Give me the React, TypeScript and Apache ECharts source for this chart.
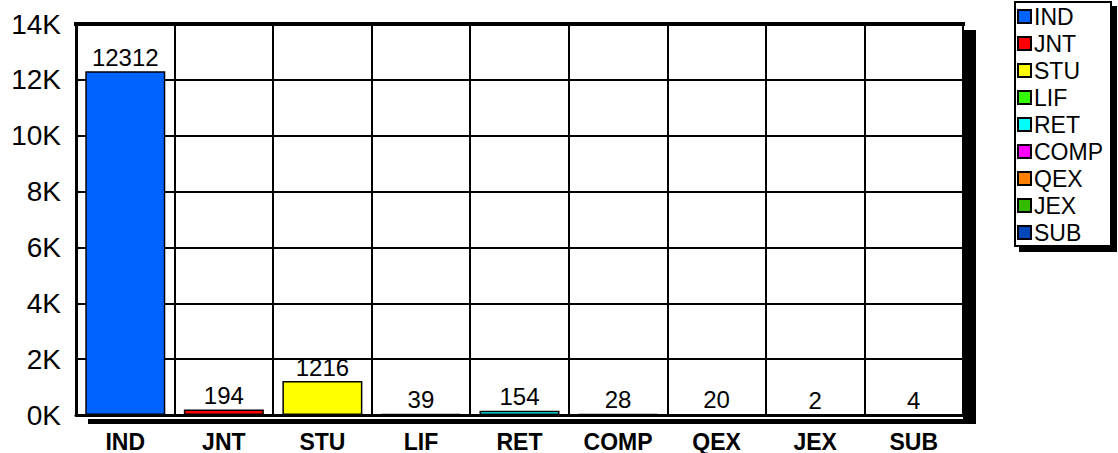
import React, { useEffect, useRef } from "react";
import * as echarts from "echarts";

const categories = ["IND", "JNT", "STU", "LIF", "RET", "COMP", "QEX", "JEX", "SUB"];
const values = [12312, 194, 1216, 39, 154, 28, 20, 2, 4];
const colors = ["#0062FF", "#FF0000", "#FFFF00", "#33FF00", "#00FFFF", "#FF00FF", "#FF7F00", "#33BB00", "#0047BB"];
const yMin = 0;
const yMax = 14000;
const yStep = 2000;

const FONT = "Arial, 'Liberation Sans', sans-serif";

export default function App() {
  const ref = useRef<HTMLDivElement>(null);
  useEffect(() => {
    if (!ref.current) return;
    const chart = echarts.init(ref.current, null, { renderer: "svg" });
    const series = categories.map((name, i) => ({
      name,
      type: "bar",
      stack: "all",
      barWidth: 80,
      data: categories.map((_, j) => (j === i ? values[i] : "-")),
      itemStyle: { color: colors[i], borderColor: "#000", borderWidth: 1.5 },
      label: {
        show: true,
        position: "top",
        distance: 2,
        color: "#000",
        fontSize: 24,
        fontFamily: FONT,
      },
      z: 3,
    }));
    chart.setOption({
      animation: false,
      backgroundColor: "#fff",
      textStyle: { fontFamily: FONT },
      grid: {
        left: 76,
        top: 24,
        right: 155,
        bottom: 35,
        show: true,
        borderColor: "#000",
        borderWidth: 2,
      },
      legend: {
        orient: "vertical",
        left: 1015,
        top: 2,
        data: categories,
        icon: "rect",
        itemWidth: 13,
        itemHeight: 13,
        itemGap: 4,
        padding: [3, 8, 2, 2],
        backgroundColor: "#fff",
        borderColor: "#000",
        borderWidth: 2,
        borderRadius: 0,
        shadowColor: "#000",
        shadowBlur: 0,
        shadowOffsetX: 5,
        shadowOffsetY: 5,
        itemStyle: { borderColor: "#000", borderWidth: 2 },
        textStyle: { fontSize: 23, lineHeight: 22, color: "#000", fontFamily: FONT, padding: [0, 0, 0, -2] },
        selectedMode: false,
      },
      xAxis: {
        type: "category",
        data: categories,
        axisLine: { show: true, lineStyle: { color: "#000", width: 3 } },
        axisTick: { show: false },
        splitLine: { show: true, lineStyle: { color: "#000", width: 2 } },
        axisLabel: {
          color: "#000",
          fontSize: 23,
          fontWeight: "bold",
          fontFamily: FONT,
          margin: 15,
        },
      },
      yAxis: {
        type: "value",
        min: yMin,
        max: yMax,
        interval: yStep,
        axisLine: { show: true, lineStyle: { color: "#000", width: 3 } },
        axisTick: { show: false },
        splitLine: { show: true, lineStyle: { color: "#000", width: 2 } },
        axisLabel: {
          color: "#000",
          fontSize: 28,
          fontFamily: FONT,
          margin: 15,
          formatter: (v: number) => `${v / 1000}K`,
        },
      },
      graphic: [
        { type: "rect", shape: { x: 74, y: 22, width: 891, height: 4 }, style: { fill: "#000" }, z: 10 },
        { type: "rect", shape: { x: 963, y: 30, width: 13, height: 394 }, style: { fill: "#000" }, z: 10 },
        { type: "rect", shape: { x: 88, y: 419, width: 888, height: 5 }, style: { fill: "#000" }, z: 10 },
      ],
      series,
    });
    return () => chart.dispose();
  }, []);
  return (
    <div
      ref={ref}
      style={{ position: "fixed", left: 0, top: 0, width: 1118, height: 453, background: "#fff" }}
    />
  );
}
